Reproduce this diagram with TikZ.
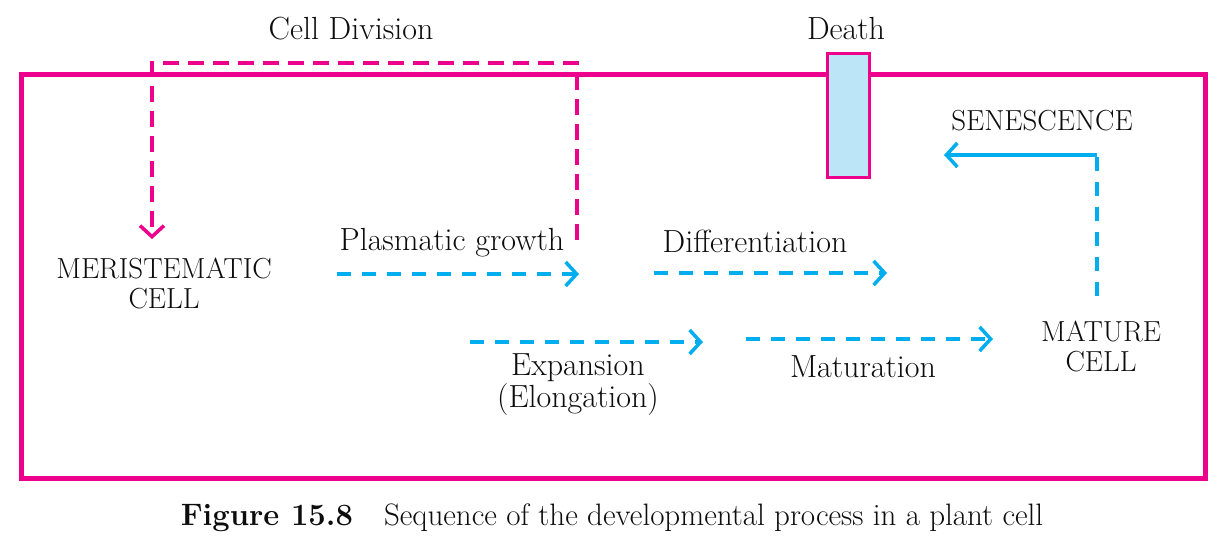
\documentclass[tikz,border=0pt]{standalone}
\usetikzlibrary{arrows.meta}
\definecolor{pinkline}{HTML}{EC008C}
\definecolor{blueline}{HTML}{00AEEF}
\definecolor{deathfill}{HTML}{BDE5F8}
\begin{document}
\begin{tikzpicture}[x=1pt,y=-1pt,
  lbl/.style={font=\fontsize{32}{32}\selectfont, align=center, inner sep=0pt, text=black!95},
  caplbl/.style={font=\fontsize{29}{30}\selectfont, align=center, inner sep=0pt, text=black!95},
  captionlbl/.style={font=\fontsize{31}{32}\selectfont, inner sep=0pt, text=black!95},
  pinkdash/.style={draw=pinkline, line width=3.5pt, dash pattern=on 16pt off 9pt,
    -{Straight Barb[length=11pt,width=24pt,line width=3.5pt]}},
  bluedash/.style={draw=blueline, line width=3.5pt, dash pattern=on 14pt off 11pt,
    -{Straight Barb[length=11pt,width=24pt,line width=3.5pt]}},
  bluedashplain/.style={draw=blueline, line width=3.5pt, dash pattern=on 14pt off 11pt},
  bluesolid/.style={draw=blueline, line width=3.5pt,
    -{Straight Barb[length=11pt,width=24pt,line width=3.5pt]}},
  frame/.style={draw=pinkline, line width=5pt},
  deathbox/.style={draw=pinkline, line width=2.5pt, fill=deathfill, minimum width=42pt, minimum height=124pt, inner sep=0pt}
]
\useasboundingbox (0,0) rectangle (1219,543);

% frame
\draw[frame] (21,75) rectangle (1205,478);

% death box
\node[deathbox] (death) at (848.5,115.5) {};
\node[lbl] (deathlbl) at (846,29) {Death};

% labels
\node[lbl] (celldiv) at (351,29) {Cell Division};
\node[caplbl] (meri) at (164,283) {MERISTEMATIC\\CELL};
\node[lbl] (plasm) at (452,243) {Plasmatic growth};
\node[lbl] (diff) at (755,241) {Differentiation};
\node[lbl] (expan) at (578,385) {Expansion\\(Elongation)};
\node[lbl] (matur) at (863,367) {Maturation};
\node[caplbl] (mature) at (1101,346) {MATURE\\CELL};
\node[caplbl] (senes) at (1042,121) {SENESCENCE};

% coordinates for connectors
\coordinate (cdstart) at (577,240);
\coordinate (cdtopr) at (577,63);
\coordinate (cdtopl) at (152,63);
\coordinate (cdend) at (152,239);
\coordinate (pgs) at (337,274);
\coordinate (pge) at (579,274);
\coordinate (dfs) at (654,273);
\coordinate (dfe) at (887,273);
\coordinate (exs) at (470,342);
\coordinate (exe) at (703,342);
\coordinate (mts) at (746,339);
\coordinate (mte) at (993,339);
\coordinate (sns) at (1097,296);
\coordinate (snc) at (1097,155);
\coordinate (sne) at (944,155);

% cell division loop
\draw[pinkdash] (cdstart) -- (cdtopr) -- (cdtopl) -- (cdend);

% blue process arrows
\draw[bluedash] (pgs) -- (pge);
\draw[bluedash] (dfs) -- (dfe);
\draw[bluedash] (exs) -- (exe);
\draw[bluedash] (mts) -- (mte);
\draw[bluedashplain] (sns) -- (snc);
\draw[bluesolid] (snc) -- (sne);

% caption
\node[captionlbl] (caption) at (612,518) {\textbf{Figure 15.8}\quad Sequence of the developmental process in a plant cell};
\end{tikzpicture}
\end{document}
